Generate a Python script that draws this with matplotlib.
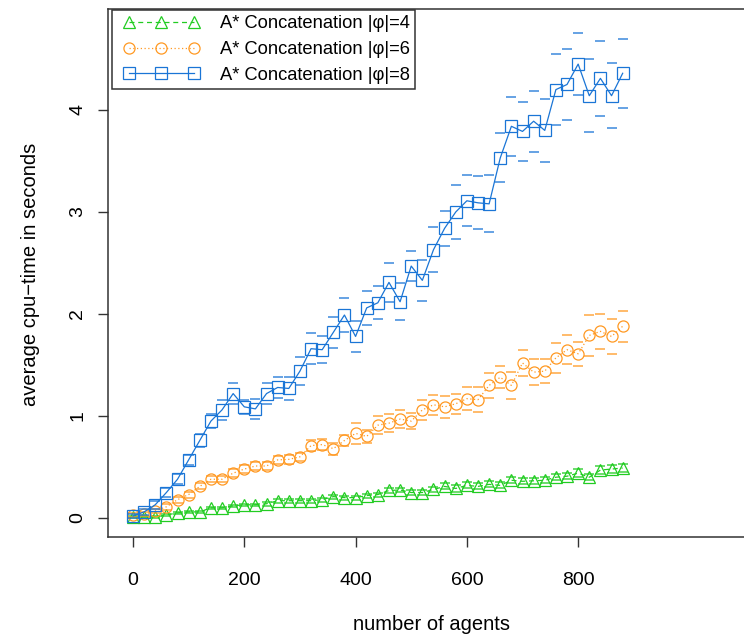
import matplotlib
matplotlib.use("Agg")
import matplotlib.pyplot as plt
from matplotlib.legend_handler import HandlerLine2D
import numpy as np

plt.rcParams['font.family'] = ['Liberation Sans', 'DejaVu Sans']

# number of agents
agents = list(range(0, 900, 20))

# average cpu-time (seconds) and error half-widths
phi4 = [0.01, 0.01, 0.01, 0.03, 0.05, 0.06, 0.06, 0.10, 0.10, 0.12,
        0.13, 0.13, 0.14, 0.17, 0.17, 0.17, 0.17, 0.18, 0.21, 0.20,
        0.20, 0.22, 0.23, 0.27, 0.275, 0.25, 0.25, 0.28, 0.31, 0.29,
        0.32, 0.31, 0.33, 0.32, 0.37, 0.36, 0.365, 0.37, 0.40, 0.41,
        0.44, 0.40, 0.47, 0.48, 0.49]
phi4_err = [0.01, 0.01, 0.01, 0.01, 0.01, 0.01, 0.01, 0.01, 0.01, 0.01,
            0.01, 0.01, 0.02, 0.02, 0.02, 0.02, 0.02, 0.02, 0.02, 0.02,
            0.02, 0.02, 0.02, 0.02, 0.02, 0.02, 0.02, 0.02, 0.03, 0.03,
            0.03, 0.03, 0.03, 0.03, 0.03, 0.03, 0.03, 0.03, 0.03, 0.03,
            0.04, 0.03, 0.04, 0.04, 0.04]

phi6 = [0.03, 0.035, 0.07, 0.11, 0.18, 0.23, 0.31, 0.38, 0.38, 0.44,
        0.48, 0.51, 0.51, 0.57, 0.575, 0.60, 0.71, 0.72, 0.68, 0.76,
        0.83, 0.80, 0.91, 0.93, 0.97, 0.95, 1.06, 1.11, 1.09, 1.12,
        1.17, 1.16, 1.30, 1.38, 1.30, 1.52, 1.43, 1.44, 1.57, 1.65,
        1.61, 1.79, 1.83, 1.78, 1.88]
phi6_err = [0.02, 0.02, 0.02, 0.03, 0.03, 0.03, 0.03, 0.03, 0.03, 0.04,
            0.04, 0.04, 0.04, 0.04, 0.045, 0.04, 0.05, 0.05, 0.06, 0.05,
            0.10, 0.06, 0.09, 0.09, 0.09, 0.08, 0.10, 0.10, 0.11, 0.10,
            0.11, 0.12, 0.12, 0.11, 0.13, 0.13, 0.13, 0.12, 0.15, 0.14,
            0.12, 0.20, 0.17, 0.17, 0.15]

phi8 = [0.02, 0.06, 0.13, 0.25, 0.38, 0.57, 0.76, 0.95, 1.06, 1.22,
        1.09, 1.07, 1.22, 1.28, 1.27, 1.44, 1.66, 1.65, 1.82, 1.99,
        1.78, 2.06, 2.11, 2.31, 2.12, 2.47, 2.33, 2.63, 2.84, 3.00,
        3.11, 3.09, 3.08, 3.53, 3.84, 3.79, 3.89, 3.80, 4.20, 4.25,
        4.45, 4.14, 4.31, 4.14, 4.36]
phi8_err = [0.02, 0.03, 0.04, 0.04, 0.05, 0.05, 0.06, 0.07, 0.10, 0.10,
            0.07, 0.10, 0.10, 0.10, 0.11, 0.14, 0.15, 0.13, 0.15, 0.17,
            0.15, 0.17, 0.16, 0.19, 0.18, 0.15, 0.20, 0.22, 0.17, 0.26,
            0.25, 0.26, 0.28, 0.24, 0.29, 0.29, 0.30, 0.31, 0.35, 0.35,
            0.30, 0.36, 0.37, 0.32, 0.34]

labels = ["A* Concatenation |\u03c6|=4", "A* Concatenation |\u03c6|=6",
          "A* Concatenation |\u03c6|=8"]
colors = ['#22cc22', '#ff9922', '#1a75d6']
markers = ['^', 'o', 's']
styles = [(0, (4, 3)), (0, (1, 2)), '-']

fig = plt.figure(figsize=(7.44, 6.38), dpi=100)
ax = fig.add_axes([108 / 744, 101 / 638, 646 / 744, 528 / 638])

x = np.array(agents)
series = [(phi4, phi4_err), (phi6, phi6_err), (phi8, phi8_err)]
for (y, e), lab, c, m, ls in zip(series, labels, colors, markers, styles):
    y = np.array(y)
    e = np.array(e)
    ax.plot(x, y, color=c, linestyle=ls, linewidth=0.9, marker=m,
            markersize=8, markerfacecolor='none', markeredgecolor=c,
            markeredgewidth=0.9, label=lab)
    # error caps only (short dashes above and below)
    ax.plot(x, y + e, linestyle='none', marker='_', markersize=7,
            markeredgewidth=1.1, color=c, alpha=0.85)
    ax.plot(x, y - e, linestyle='none', marker='_', markersize=7,
            markeredgewidth=1.1, color=c, alpha=0.85)

ax.set_xlim(-44.9, 1116)
ax.set_ylim(-0.186, 4.99)
ax.set_xticks([0, 200, 400, 600, 800])
ax.set_yticks([0, 1, 2, 3, 4])

for s in ax.spines.values():
    s.set_color('#333333')
    s.set_linewidth(1.1)

ax.tick_params(axis='both', direction='out', length=7.5, width=1.0,
               color='#333333', labelsize=14)
ax.tick_params(axis='x', pad=17.5)
ax.tick_params(axis='y', pad=8)
for t in ax.get_yticklabels():
    t.set_rotation(90)
    t.set_va('center')

fig.text(431 / 744, 1 - 625 / 638, "number of agents", fontsize=14.5,
         ha='center', va='center')
fig.text(31 / 744, 1 - 274 / 638, "average cpu\u2212time in seconds",
         fontsize=14.5, ha='center', va='center', rotation=90)

leg = ax.legend(loc='upper left', bbox_to_anchor=(4 / 646, 1 - 1 / 528),
                borderaxespad=0, numpoints=3, handlelength=4.75,
                handletextpad=0.84, borderpad=0.3, labelspacing=0.47,
                fontsize=13.2, fancybox=False, framealpha=1,
                handler_map={plt.Line2D: HandlerLine2D(marker_pad=0.6)})
leg.get_frame().set_edgecolor('#333333')
leg.get_frame().set_linewidth(1.1)

fig.savefig("out.png", dpi=100)
